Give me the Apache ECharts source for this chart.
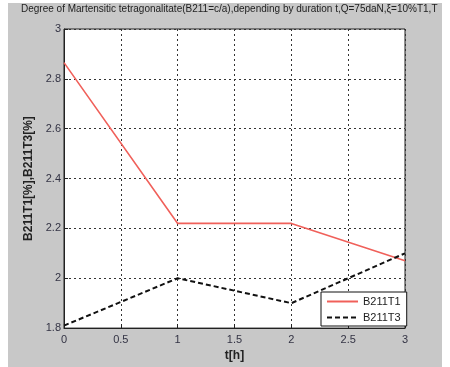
<!DOCTYPE html>
<html>
<head>
<meta charset="utf-8">
<script src="https://cdn.jsdelivr.net/npm/echarts@6/dist/echarts.min.js"></script>
<style>
html,body{margin:0;padding:0;background:#fff;width:450px;height:367px;overflow:hidden;}
#frame{position:absolute;left:8px;top:3px;width:434px;height:364px;background:#c8c8c8;}
#chart{width:434px;height:364px;}
</style>
</head>
<body>
<div id="frame"><div id="chart"></div></div>
<script>
const titleText = 'Degree of Martensitic tetragonalitate(B211=c/a),depending by duration t,Q=75daN,\u03BE=10%T1,T';
const xLabel = 't[h]';
const yLabel = 'B211T1[%],B211T3[%]';
const durations = [0, 1, 2, 3];
const seriesNames = ['B211T1', 'B211T3'];
const b211T1 = [2.865, 2.22, 2.22, 2.07];
const b211T3 = [1.81, 2.0, 1.9, 2.1];
const xTicks = [0, 0.5, 1, 1.5, 2, 2.5, 3];
const yTicks = [1.8, 2, 2.2, 2.4, 2.6, 2.8, 3];

const chart = echarts.init(document.getElementById('chart'), null, {renderer: 'canvas'});
const fontFam = '"Liberation Sans", Arial, sans-serif';
const pairs = (ys) => durations.map((x, i) => [x, ys[i]]);

chart.setOption({
  animation: false,
  backgroundColor: 'transparent',
  title: {
    text: titleText,
    left: 13, top: 1, padding: 0,
    textStyle: {fontFamily: fontFam, fontSize: 10, fontWeight: 'normal', color: '#222'}
  },
  grid: {
    left: 56, top: 26, right: 37, bottom: 35,
    show: true, backgroundColor: '#fff', borderColor: '#222', borderWidth: 1
  },
  legend: {
    orient: 'vertical',
    left: 313, top: 289,
    width: 80,
    backgroundColor: '#fff', borderColor: '#111', borderWidth: 1,
    padding: [4, 6, 3, 5],
    itemWidth: 31, itemHeight: 12, itemGap: 5,
    itemStyle: {opacity: 0},
    textStyle: {fontFamily: fontFam, fontSize: 11, color: '#222'},
    data: seriesNames
  },
  xAxis: {
    type: 'value',
    min: xTicks[0], max: xTicks[xTicks.length - 1], interval: xTicks[1] - xTicks[0],
    name: xLabel, nameLocation: 'middle', nameGap: 19,
    nameTextStyle: {fontFamily: fontFam, fontSize: 12, fontWeight: 'bold', color: '#222'},
    axisLine: {show: true, onZero: false, lineStyle: {color: '#222', width: 1}},
    axisTick: {show: true, inside: true, length: 4, lineStyle: {color: '#222'}},
    axisLabel: {margin: 6, fontFamily: fontFam, fontSize: 11, color: '#334'},
    splitLine: {show: true, lineStyle: {color: '#333', width: 1, type: [2, 3]}}
  },
  yAxis: {
    type: 'value',
    min: yTicks[0], max: yTicks[yTicks.length - 1], interval: 0.2,
    name: yLabel, nameLocation: 'middle', nameGap: 21,
    nameTextStyle: {fontFamily: fontFam, fontSize: 12, fontWeight: 'bold', color: '#222'},
    axisLine: {show: true, lineStyle: {color: '#222', width: 1}},
    axisTick: {show: true, inside: true, length: 4, lineStyle: {color: '#222'}},
    axisLabel: {margin: 3, fontFamily: fontFam, fontSize: 11, color: '#334',
      formatter: (v) => String(Math.round(v * 10) / 10)},
    splitLine: {show: true, lineStyle: {color: '#333', width: 1, type: [2, 3]}}
  },
  series: [
    {
      name: seriesNames[0], type: 'line', data: pairs(b211T1),
      symbol: 'none', showSymbol: false,
      lineStyle: {color: '#f0605a', width: 1.6, type: 'solid'},
      itemStyle: {color: '#f0605a'}
    },
    {
      name: seriesNames[1], type: 'line', data: pairs(b211T3),
      symbol: 'none', showSymbol: false,
      lineStyle: {color: '#111', width: 2, type: [5, 3]},
      itemStyle: {color: '#111'}
    }
  ]
});
</script>
</body>
</html>
